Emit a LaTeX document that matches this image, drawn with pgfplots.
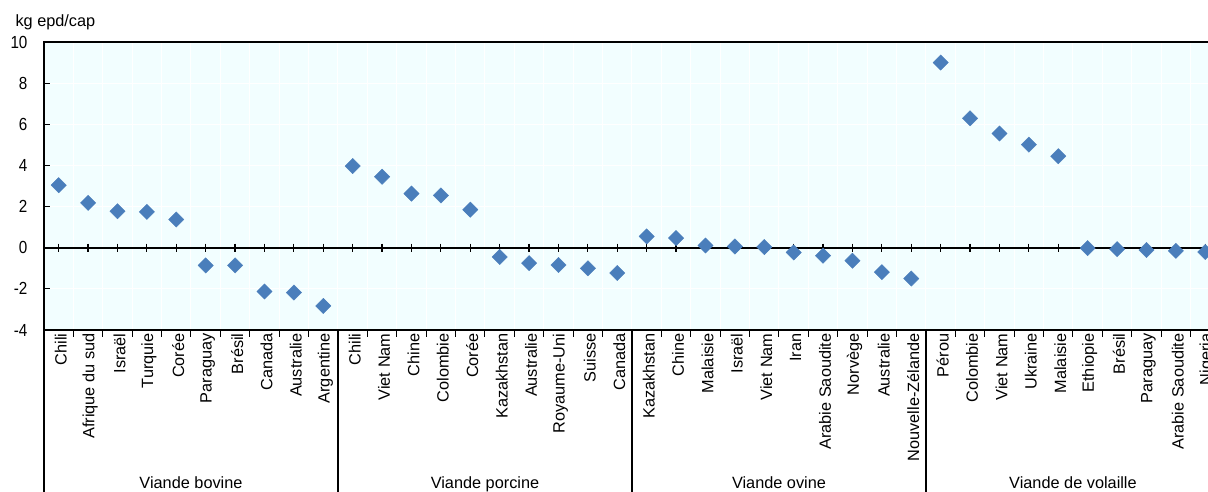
\documentclass[border=0pt]{standalone}
\usepackage{pgfplots}
\pgfplotsset{compat=1.18}
\usepackage{fontspec}
\setmainfont{Liberation Sans}
\newfontfamily\narrowfont[FakeStretch=0.87]{Liberation Sans}
\definecolor{bg}{RGB}{242,254,255}
\definecolor{mk}{RGB}{74,126,187}
\pgfplotstableread{
x y
0 3.04
1 2.18
2 1.77
3 1.74
4 1.37
5 -0.86
6 -0.86
7 -2.13
8 -2.18
9 -2.83
10 3.97
11 3.45
12 2.63
13 2.54
14 1.85
15 -0.45
16 -0.75
17 -0.84
18 -1.00
19 -1.23
20 0.55
21 0.47
22 0.11
23 0.06
24 0.03
25 -0.23
26 -0.39
27 -0.63
28 -1.19
29 -1.50
30 9.00
31 6.29
32 5.55
33 5.01
34 4.45
35 -0.02
36 -0.07
37 -0.11
38 -0.15
39 -0.21
}\datatable
\begin{document}
\begin{tikzpicture}
\begin{axis}[
  at={(0pt,0pt)}, anchor=south west,
  scale only axis, width=1176pt, height=288pt,
  xmin=-0.5, xmax=39.5, ymin=-4, ymax=10,
  axis background/.style={fill=bg},
  ytick={-4,-2,...,10},
  xtick={0,...,39},
  xticklabels={Chili,Afrique du sud,Israël,Turquie,Corée,Paraguay,Brésil,Canada,Australie,Argentine,
    Chili,Viet Nam,Chine,Colombie,Corée,Kazakhstan,Australie,Royaume-Uni,Suisse,Canada,
    Kazakhstan,Chine,Malaisie,Israël,Viet Nam,Iran,Arabie Saoudite,Norvège,Australie,Nouvelle-Zélande,
    Pérou,Colombie,Viet Nam,Ukraine,Malaisie,Ethiopie,Brésil,Paraguay,Arabie Saoudite,Nigeria},
  minor xtick={-0.5,0.5,...,39.5},
  tick pos=left,
  tick align=inside,
  major tick length=6pt,
  minor tick length=-7pt,
  major x tick style={draw=none},
  tick style={black, line width=1pt},
  minor tick style={black, line width=1pt},
  ymajorgrids, xminorgrids,
  major grid style={white, line width=1pt},
  minor grid style={white, line width=1pt},
  axis line style={black, line width=1.3pt},
  xticklabel style={rotate=90, anchor=east, font=\fontsize{16.3}{19}\selectfont, yshift=-2pt},
  yticklabel style={font=\narrowfont\fontsize{17.5}{20}\selectfont, xshift=-13pt},
  /pgf/number format/assume math mode=true,
  clip=false,
]
\addplot[black, line width=1.6pt] coordinates {(-0.5,0) (39.5,0)};
\addplot[only marks, mark=|, mark size=4pt, black, mark options={line width=1.2pt}] coordinates {
(0,0)(1,0)(2,0)(3,0)(4,0)(5,0)(6,0)(7,0)(8,0)(9,0)(10,0)(11,0)(12,0)(13,0)(14,0)(15,0)(16,0)(17,0)(18,0)(19,0)
(20,0)(21,0)(22,0)(23,0)(24,0)(25,0)(26,0)(27,0)(28,0)(29,0)(30,0)(31,0)(32,0)(33,0)(34,0)(35,0)(36,0)(37,0)(38,0)(39,0)};
\addplot[only marks, mark=square*, mark size=5.4pt, mk, mark options={rotate=45, fill=mk, draw=mk}] table[x=x,y=y] {\datatable};
\draw[black, line width=1.3pt] (axis cs:-0.5,-4) -- ++(0pt,-162pt);
\draw[black, line width=1.3pt] (axis cs:9.5,-4) -- ++(0pt,-162pt);
\draw[black, line width=1.3pt] (axis cs:19.5,-4) -- ++(0pt,-162pt);
\draw[black, line width=1.3pt] (axis cs:29.5,-4) -- ++(0pt,-162pt);
\node[anchor=base, font=\fontsize{16.3}{19}\selectfont] at ([yshift=-158pt]axis cs:4.5,-4) {Viande bovine};
\node[anchor=base, font=\fontsize{16.3}{19}\selectfont] at ([yshift=-158pt]axis cs:14.5,-4) {Viande porcine};
\node[anchor=base, font=\fontsize{16.3}{19}\selectfont] at ([yshift=-158pt]axis cs:24.5,-4) {Viande ovine};
\node[anchor=base, font=\fontsize{16.3}{19}\selectfont] at ([yshift=-158pt]axis cs:34.5,-4) {Viande de volaille};
\node[anchor=base west, font=\fontsize{16.3}{19}\selectfont] at ([xshift=-32pt,yshift=15pt]rel axis cs:0,1) {kg epd/cap};
\end{axis}
\pgfresetboundingbox
\path[use as bounding box] (-44pt,-162pt) rectangle (1164pt,330pt);
\end{tikzpicture}
\end{document}
